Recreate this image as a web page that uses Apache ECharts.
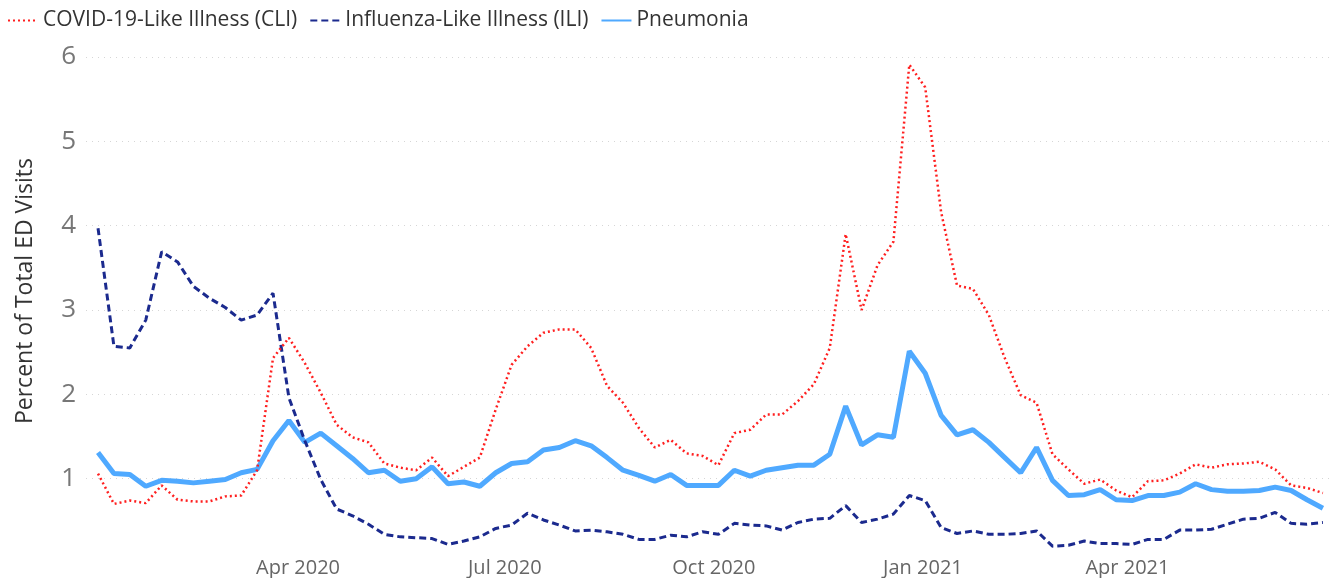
<!DOCTYPE html>
<html>
<head>
<meta charset="utf-8">
<script src="https://cdn.jsdelivr.net/npm/echarts@6/dist/echarts.min.js"></script>
<style>
  html, body { margin: 0; padding: 0; background: #fff; }
  #main { width: 1335px; height: 578px; }
</style>
</head>
<body>
<div id="main"></div>
<script>
// week ending dates (Saturdays)
var weeks = [
  '2020-01-04','2020-01-11','2020-01-18','2020-01-25','2020-02-01','2020-02-08','2020-02-15','2020-02-22','2020-02-29',
  '2020-03-07','2020-03-14','2020-03-21','2020-03-28','2020-04-04','2020-04-11','2020-04-18','2020-04-25',
  '2020-05-02','2020-05-09','2020-05-16','2020-05-23','2020-05-30','2020-06-06','2020-06-13','2020-06-20','2020-06-27',
  '2020-07-04','2020-07-11','2020-07-18','2020-07-25','2020-08-01','2020-08-08','2020-08-15','2020-08-22','2020-08-29',
  '2020-09-05','2020-09-12','2020-09-19','2020-09-26','2020-10-03','2020-10-10','2020-10-17','2020-10-24','2020-10-31',
  '2020-11-07','2020-11-14','2020-11-21','2020-11-28','2020-12-05','2020-12-12','2020-12-19','2020-12-26',
  '2021-01-02','2021-01-09','2021-01-16','2021-01-23','2021-01-30','2021-02-06','2021-02-13','2021-02-20','2021-02-27',
  '2021-03-06','2021-03-13','2021-03-20','2021-03-27','2021-04-03','2021-04-10','2021-04-17','2021-04-24',
  '2021-05-01','2021-05-08','2021-05-15','2021-05-22','2021-05-29','2021-06-05','2021-06-12','2021-06-19','2021-06-26'
];

var cli = [
  1.06, 0.70, 0.74, 0.71, 0.92, 0.75, 0.73, 0.73, 0.79, 0.80, 1.10, 2.43, 2.67,
  2.37, 2.02, 1.64, 1.49, 1.43, 1.18, 1.13, 1.10, 1.25, 1.03, 1.14, 1.25, 1.82,
  2.35, 2.57, 2.73, 2.77, 2.77, 2.55, 2.10, 1.90, 1.60, 1.37, 1.46, 1.30, 1.27,
  1.16, 1.54, 1.58, 1.76, 1.76, 1.92, 2.12, 2.55, 3.90, 3.00, 3.53, 3.81, 5.91,
  5.64, 4.16, 3.29, 3.25, 2.94, 2.43, 1.99, 1.90, 1.29, 1.11, 0.94, 0.99, 0.86,
  0.78, 0.97, 0.98, 1.06, 1.17, 1.13, 1.17, 1.18, 1.20, 1.11, 0.92, 0.89, 0.83
];

var ili = [
  3.97, 2.57, 2.55, 2.88, 3.69, 3.57, 3.28, 3.14, 3.03, 2.88, 2.94, 3.20, 1.96,
  1.45, 0.99, 0.64, 0.56, 0.46, 0.34, 0.31, 0.30, 0.29, 0.22, 0.26, 0.31, 0.41,
  0.45, 0.59, 0.51, 0.45, 0.38, 0.39, 0.37, 0.34, 0.28, 0.28, 0.33, 0.31, 0.37,
  0.34, 0.47, 0.45, 0.44, 0.39, 0.48, 0.52, 0.53, 0.68, 0.48, 0.52, 0.58, 0.80,
  0.74, 0.42, 0.35, 0.38, 0.34, 0.34, 0.35, 0.38, 0.20, 0.21, 0.26, 0.23, 0.23,
  0.22, 0.28, 0.28, 0.39, 0.39, 0.40, 0.46, 0.52, 0.53, 0.60, 0.47, 0.46, 0.48
];

var pneumonia = [
  1.31, 1.06, 1.05, 0.91, 0.98, 0.97, 0.95, 0.97, 0.99, 1.07, 1.11, 1.45, 1.69,
  1.43, 1.54, 1.39, 1.24, 1.07, 1.10, 0.97, 1.00, 1.14, 0.94, 0.96, 0.91, 1.07,
  1.18, 1.20, 1.34, 1.37, 1.45, 1.39, 1.25, 1.10, 1.04, 0.97, 1.05, 0.92, 0.92,
  0.92, 1.10, 1.03, 1.10, 1.13, 1.16, 1.16, 1.29, 1.86, 1.40, 1.52, 1.49, 2.51,
  2.25, 1.75, 1.52, 1.58, 1.43, 1.25, 1.07, 1.37, 0.98, 0.80, 0.81, 0.87, 0.75,
  0.74, 0.80, 0.80, 0.84, 0.94, 0.87, 0.85, 0.85, 0.86, 0.90, 0.86, 0.75, 0.65
];

// x axis labels
var tickDates = ['2020-04-01', '2020-07-01', '2020-10-01', '2021-01-01', '2021-04-01'];
var tickLabels = ['Apr 2020', 'Jul 2020', 'Oct 2020', 'Jan 2021', 'Apr 2021'];

function ts(s) { return Date.parse(s + 'T00:00:00Z'); }
function pairs(vals) {
  return weeks.map(function (d, i) { return [ts(d), vals[i]]; });
}
var tickTs = tickDates.map(ts);

var myChart = echarts.init(document.getElementById('main'));
var font = 'Open Sans';

var option = {
  animation: false,
  textStyle: { fontFamily: font },
  legend: {
    left: 2,
    top: 5,
    itemWidth: 30,
    itemHeight: 14,
    itemGap: 12,
    itemStyle: { opacity: 0 },
    textStyle: { fontSize: 21, color: '#333', fontFamily: font },
    data: ['COVID-19-Like Illness (CLI)', 'Influenza-Like Illness (ILI)', 'Pneumonia']
  },
  graphic: [{
    type: 'text',
    x: 25,
    y: 291,
    rotation: Math.PI / 2,
    style: {
      text: 'Percent of Total ED Visits',
      fontSize: 23,
      fontFamily: font,
      fill: '#333',
      align: 'center',
      verticalAlign: 'middle'
    }
  }],
  grid: { left: 86, right: 3, top: 57, bottom: 12 },
  xAxis: {
    type: 'value',
    min: ts('2019-12-29') + 17 * 3600 * 1000,
    max: ts('2021-06-30'),
    axisLine: { show: false },
    axisTick: { show: false },
    splitLine: { show: false },
    axisLabel: {
      customValues: tickTs,
      margin: -5,
      fontSize: 20,
      color: '#666',
      fontFamily: font,
      formatter: function (v) {
        var i = tickTs.indexOf(v);
        return i >= 0 ? tickLabels[i] : '';
      }
    }
  },
  yAxis: {
    type: 'value',
    min: 0,
    max: 6,
    interval: 1,
    axisLine: { show: false },
    axisTick: { show: false },
    axisLabel: {
      fontSize: 26,
      color: '#777',
      margin: 10,
      fontFamily: font,
      formatter: function (v) { return v === 0 ? '' : String(v); }
    },
    splitLine: {
      showMinLine: false,
      lineStyle: { color: '#d6d6d6', type: [1, 5], width: 1 }
    }
  },
  series: [
    {
      name: 'COVID-19-Like Illness (CLI)',
      type: 'line',
      symbol: 'none',
      color: '#ff1f1f',
      lineStyle: { width: 2.5, type: [2, 3], color: '#ff1f1f' },
      data: pairs(cli),
      z: 3
    },
    {
      name: 'Influenza-Like Illness (ILI)',
      type: 'line',
      symbol: 'none',
      color: '#1b2a8e',
      lineStyle: { width: 3, type: [7, 4], color: '#1b2a8e' },
      data: pairs(ili),
      z: 2
    },
    {
      name: 'Pneumonia',
      type: 'line',
      symbol: 'none',
      color: '#4fa9ff',
      lineStyle: { width: 5, color: '#4fa9ff' },
      data: pairs(pneumonia),
      z: 1
    }
  ]
};

myChart.setOption(option);
</script>
</body>
</html>
